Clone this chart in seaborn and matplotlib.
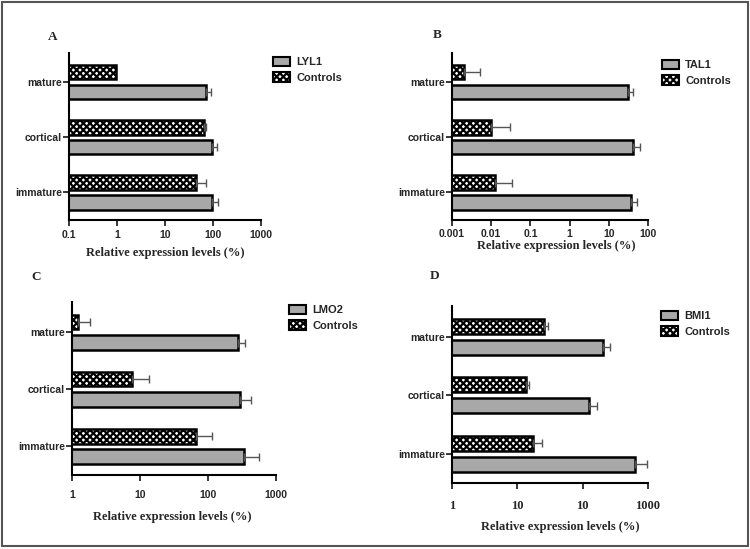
import matplotlib.pyplot as plt
import matplotlib.patches as mpatches
import pandas as pd
import seaborn as sns

# ---------------------------------------------------------------------------
# data, order: mature, cortical, immature
# ---------------------------------------------------------------------------
stages = ['mature', 'cortical', 'immature']

lyl1 = [73, 96, 95]
lyl1_err = [16, 27, 31]
lyl1_ctrl = [0.94, 65, 45]
lyl1_ctrl_err = [0, 5, 28]

tal1 = [31, 42, 36]
tal1_err = [10, 19, 16]
tal1_ctrl = [0.002, 0.0101, 0.0127]
tal1_ctrl_err = [0.0032, 0.0195, 0.0203]

lmo2 = [273, 292, 342]
lmo2_err = [81, 138, 214]
lmo2_ctrl = [1.24, 7.6, 66]
lmo2_ctrl_err = [0.62, 5.8, 47]

bmi1 = [207, 126, 640]
bmi1_err = [55, 40, 336]
bmi1_ctrl = [26, 13.6, 17.4]
bmi1_ctrl_err = [3, 1.3, 6.6]

ticks_a = [0.1, 1, 10, 100, 1000]
labels_a = ['0.1', '1', '10', '100', '1000']
ticks_b = [0.001, 0.01, 0.1, 1, 10, 100]
labels_b = ['0.001', '0.01', '0.1', '1', '10', '100']
ticks_c = [1, 10, 100, 1000]
labels_c = ['1', '10', '100', '1000']
ticks_d = [1, 10, 100, 1000]
labels_d = ['1', '10', '10', '1000']   # as printed in the original

GRAY = '#a8a8a8'
HATCH = 'xxxxx'
W, H = 750, 549

sns.set_style('ticks')
plt.rcParams['font.family'] = ['Liberation Sans', 'DejaVu Sans']
plt.rcParams['hatch.linewidth'] = 1.6

fig = plt.figure(figsize=(W / 100, H / 100), dpi=100)


def px_axes(left, top, right, bottom):
    return fig.add_axes([left / W, 1 - bottom / H, (right - left) / W, (bottom - top) / H])


def draw_panel(ax, gene, vals, errs, ctrl, ctrl_err, xlim, ticks, ticklabels,
               tickpad, serif_ticks=False):
    df = pd.DataFrame({
        'stage': stages * 2,
        'group': [gene] * 3 + ['Controls'] * 3,
        'value': list(vals) + list(ctrl),
    })
    sns.barplot(data=df, x='value', y='stage', hue='group', order=stages,
                hue_order=['Controls', gene],
                palette={'Controls': 'white', gene: GRAY}, saturation=1,
                orient='h', errorbar=None, width=0.72, gap=0.28,
                edgecolor='black', linewidth=1.8, legend=False, ax=ax)

    err_map = {'Controls': ctrl_err, gene: errs}
    for cont, grp in zip(ax.containers, ['Controls', gene]):
        for bar in cont:
            if grp == 'Controls':
                bar.set_hatch(HATCH)
            yc = bar.get_y() + bar.get_height() / 2
            e = err_map[grp][int(round(yc))]
            if e > 0:
                ax.errorbar(bar.get_width(), yc, xerr=[[0], [e]], fmt='none',
                            ecolor='#555555', elinewidth=1, capsize=3, capthick=1)

    ax.set_xscale('log')
    ax.set_xlim(*xlim)
    ax.set_ylim(2.5, -0.53)
    ax.set_xticks(ticks)
    ax.set_xticklabels(ticklabels)
    ax.minorticks_off()
    ax.set_xlabel('')
    ax.set_ylabel('')
    sns.despine(ax=ax)
    for s in ['left', 'bottom']:
        ax.spines[s].set_linewidth(1.5)
        ax.spines[s].set_color('black')
    ax.tick_params(axis='y', length=4, width=1.3, pad=1, labelsize=7.5)
    ax.tick_params(axis='x', length=4, width=1.3, pad=tickpad, labelsize=7.5)
    for t in ax.get_yticklabels():
        t.set_fontweight('bold')
    for t in ax.get_xticklabels():
        t.set_fontweight('bold')
        if serif_ticks:
            t.set_family('Liberation Serif')
            t.set_fontsize(9)


def add_legend(ax, gene, x, y):
    handles = [mpatches.Patch(facecolor=GRAY, edgecolor='black', linewidth=1.5),
               mpatches.Patch(facecolor='white', edgecolor='black', linewidth=1.5, hatch=HATCH)]
    ax.legend(handles, [gene, 'Controls'], loc='upper left',
              bbox_to_anchor=(x / W, 1 - y / H), bbox_transform=fig.transFigure,
              frameon=False, borderpad=0, borderaxespad=0, handlelength=1.5,
              handleheight=0.9, handletextpad=0.6, labelspacing=0.45,
              prop={'family': 'Liberation Sans', 'weight': 'bold', 'size': 8})


def fig_text(x, y, s, **kw):
    fig.text(x / W, 1 - y / H, s, ha='center', va='center',
             family='Liberation Serif', weight='bold', **kw)


# panel A
ax_a = px_axes(69, 53, 261, 220)
draw_panel(ax_a, 'LYL1', lyl1, lyl1_err, lyl1_ctrl, lyl1_ctrl_err,
           (0.1, 1000), ticks_a, labels_a, tickpad=3)
add_legend(ax_a, 'LYL1', 273, 57)
fig_text(53, 37, 'A', fontsize=9.5)
fig_text(165, 253, 'Relative expression levels (%)', fontsize=9)

# panel B
ax_b = px_axes(452, 53, 648, 220)
draw_panel(ax_b, 'TAL1', tal1, tal1_err, tal1_ctrl, tal1_ctrl_err,
           (0.001, 100), ticks_b, labels_b, tickpad=2.5)
add_legend(ax_b, 'TAL1', 662, 60)
fig_text(437, 35, 'B', fontsize=9.5)
fig_text(556, 246, 'Relative expression levels (%)', fontsize=9)

# panel C
ax_c = px_axes(72, 302, 276, 475)
draw_panel(ax_c, 'LMO2', lmo2, lmo2_err, lmo2_ctrl, lmo2_ctrl_err,
           (1, 1000), ticks_c, labels_c, tickpad=6.5)
add_legend(ax_c, 'LMO2', 289, 305)
fig_text(36, 277, 'C', fontsize=9.5)
fig_text(172, 517, 'Relative expression levels (%)', fontsize=9)

# panel D
ax_d = px_axes(452, 306, 648, 483)
draw_panel(ax_d, 'BMI1', bmi1, bmi1_err, bmi1_ctrl, bmi1_ctrl_err,
           (1, 1000), ticks_d, labels_d, tickpad=8, serif_ticks=True)
add_legend(ax_d, 'BMI1', 661, 311)
fig_text(435, 276, 'D', fontsize=9.5)
fig_text(560, 527, 'Relative expression levels (%)', fontsize=9)

# outer frame
fig.add_artist(mpatches.Rectangle((0.002, 0.005), 0.995, 0.992, transform=fig.transFigure,
                                  fill=False, edgecolor='#555555', linewidth=1.5))

fig.savefig('out.png', dpi=100)
